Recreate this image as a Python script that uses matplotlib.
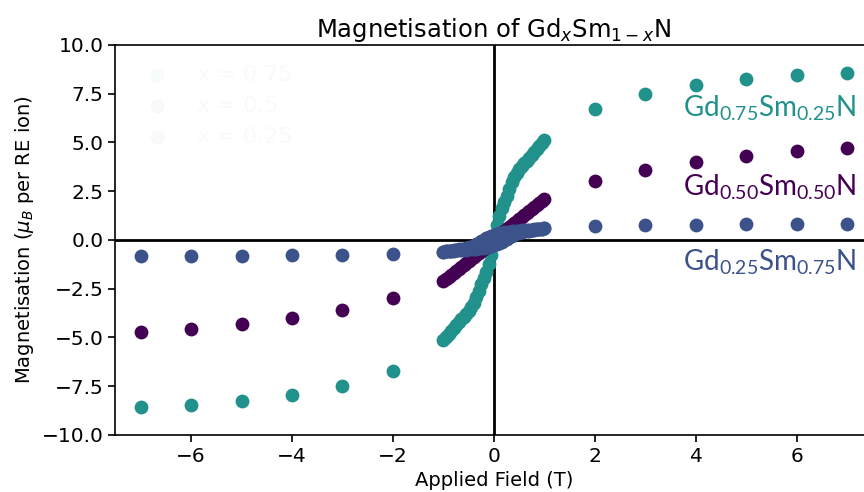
import matplotlib
matplotlib.use("Agg")
import matplotlib.pyplot as plt
import numpy as np

# champs forts (T) et aimantation correspondante
high_field = [-7, -6, -5, -4, -3, -2, 2, 3, 4, 5, 6, 7]
m75_high = [-8.55, -8.45, -8.25, -7.95, -7.49, -6.70, 6.70, 7.49, 7.95, 8.25, 8.45, 8.55]
m50_high = [-4.72, -4.56, -4.32, -4.01, -3.60, -3.00, 3.00, 3.60, 4.01, 4.32, 4.56, 4.72]
m25_high = [-0.83, -0.82, -0.80, -0.78, -0.76, -0.72, 0.72, 0.76, 0.78, 0.80, 0.82, 0.83]

# balayage à faible champ (T)
sweep_field = [-1.0, -0.95, -0.9, -0.85, -0.8, -0.75, -0.7, -0.65, -0.6, -0.55, -0.5,
               -0.45, -0.4, -0.35, -0.3, -0.25, -0.2, -0.15, -0.1, -0.05, 0.0,
               0.05, 0.1, 0.15, 0.2, 0.25, 0.3, 0.35, 0.4, 0.45, 0.5,
               0.55, 0.6, 0.65, 0.7, 0.75, 0.8, 0.85, 0.9, 0.95, 1.0]
m75_sweep = [-5.13, -4.96, -4.8, -4.65, -4.5, -4.35, -4.2, -4.06, -3.93, -3.8, -3.65,
             -3.45, -3.25, -2.95, -2.6, -2.25, -1.95, -1.65, -1.25, -0.75, 0.0,
             0.75, 1.25, 1.65, 1.95, 2.25, 2.6, 2.95, 3.25, 3.45, 3.65,
             3.8, 3.93, 4.06, 4.2, 4.35, 4.5, 4.65, 4.8, 4.96, 5.13]
m50_sweep = [-2.1, -2.0, -1.9, -1.8, -1.7, -1.6, -1.5, -1.39, -1.29, -1.19, -1.08,
             -0.98, -0.88, -0.78, -0.68, -0.58, -0.47, -0.36, -0.25, -0.13, 0.0,
             0.13, 0.25, 0.36, 0.47, 0.58, 0.68, 0.78, 0.88, 0.98, 1.08,
             1.19, 1.29, 1.39, 1.5, 1.6, 1.7, 1.8, 1.9, 2.0, 2.1]
# x = 0.25 : deux branches (champ descendant / montant)
m25_down = [-0.6, -0.58, -0.56, -0.54, -0.52, -0.5, -0.48, -0.46, -0.44, -0.41, -0.38,
            -0.34, -0.29, -0.22, -0.14, -0.06, 0.02, 0.09, 0.15, 0.21, 0.26,
            0.3, 0.34, 0.37, 0.39, 0.41, 0.43, 0.44, 0.46, 0.47, 0.48,
            0.49, 0.5, 0.51, 0.52, 0.53, 0.54, 0.55, 0.56, 0.58, 0.6]
m25_up = [-0.6, -0.58, -0.56, -0.55, -0.54, -0.53, -0.52, -0.51, -0.5, -0.49, -0.48,
          -0.47, -0.46, -0.44, -0.43, -0.41, -0.39, -0.37, -0.34, -0.3, -0.26,
          -0.21, -0.15, -0.09, -0.02, 0.06, 0.14, 0.22, 0.29, 0.34, 0.38,
          0.41, 0.44, 0.46, 0.48, 0.5, 0.52, 0.54, 0.56, 0.58, 0.6]

labels = ["x = 0.75", "x = 0.5", "x = 0.25"]
names = [r"$\mathregular{Gd_{0.75}Sm_{0.25}N}$",
         r"$\mathregular{Gd_{0.50}Sm_{0.50}N}$",
         r"$\mathregular{Gd_{0.25}Sm_{0.75}N}$"]
colors = ["#21918c", "#440154", "#3b528b"]

fig = plt.figure(figsize=(8.64, 4.92), dpi=100)
ax = fig.add_axes([0.1334, 0.1159, 0.8767, 0.7927])

ax.axhline(0, color="black", lw=2, zorder=1)
ax.axvline(0, color="black", lw=2, zorder=1)

s = 80
ax.scatter(high_field + sweep_field, m75_high + m75_sweep, s=s, color=colors[0], label=labels[0], zorder=2)
ax.scatter(high_field + sweep_field, m50_high + m50_sweep, s=s, color=colors[1], label=labels[1], zorder=2)
ax.scatter(high_field + sweep_field + sweep_field, m25_high + m25_down + m25_up,
           s=s, color=colors[2], label=labels[2], zorder=2)

ax.set_xlim(-7.5, 7.5)
ax.set_ylim(-10, 10)
ax.tick_params(labelsize=14.5, width=1.2, length=5)
for sp in ax.spines.values():
    sp.set_linewidth(1.2)

ax.set_xlabel("Applied Field (T)", fontsize=14)
ax.set_ylabel(r"Magnetisation ($\mu_B$ per RE ion)", fontsize=14)
ax.set_title(r"Magnetisation of Gd$_x$Sm$_{1-x}$N", fontsize=17.5)

# étiquettes des compositions
label_y = [6.75, 2.7, -1.15]
for name, c, yy in zip(names, colors, label_y):
    ax.text(3.75, yy, name, color=c, fontsize=20, family="Lato", ha="left", va="center")

# légende quasi transparente
leg = ax.legend(loc="upper left", fontsize=16, frameon=True)
leg.get_frame().set_alpha(0.02)
for t in leg.get_texts():
    t.set_alpha(0.025)
for h in leg.legend_handles:
    h.set_alpha(0.025)

fig.savefig("out.png", dpi=100)
